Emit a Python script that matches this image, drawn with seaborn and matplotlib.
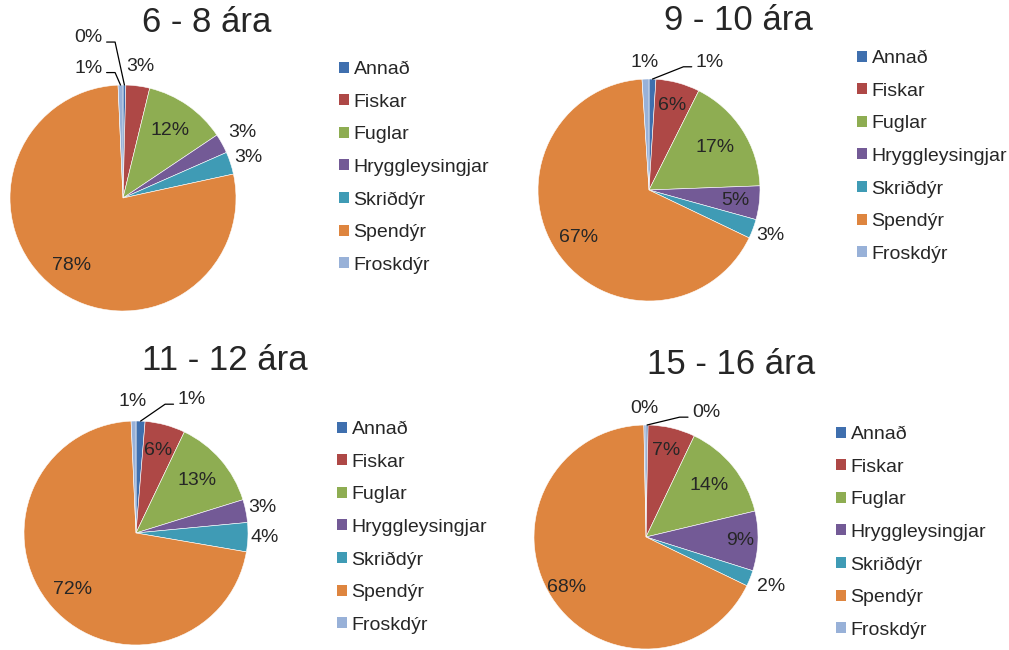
"""
four pie charts of animal groups by age group, each with its own legend
"""

import numpy as np
import matplotlib
matplotlib.use("Agg")
import matplotlib.pyplot as plt
from matplotlib.patches import Patch
import seaborn as sns

sns.set_style("white")
plt.rcParams['font.family'] = ['Liberation Sans', 'DejaVu Sans']

categories = ["Annað", "Fiskar", "Fuglar", "Hryggleysingjar", "Skriðdýr", "Spendýr", "Froskdýr"]
age_groups = ["6 - 8 ára", "9 - 10 ára", "11 - 12 ára", "15 - 16 ára"]

share_6_8 = [0.4, 3.4, 11.8, 2.8, 3.2, 77.7, 0.7]
share_9_10 = [1.0, 6.4, 17.0, 4.9, 2.8, 66.9, 1.0]
share_11_12 = [1.3, 5.8, 13.1, 3.3, 4.2, 71.6, 0.7]
share_15_16 = [0.3, 6.8, 14.2, 8.6, 2.3, 67.6, 0.3]
shares = [share_6_8, share_9_10, share_11_12, share_15_16]

colors = sns.color_palette(["#3F6FAE", "#AE4846", "#8EAD52", "#735A96",
                            "#3F9BB5", "#DE853F", "#98B1D8"])

W, H = 1009, 650
# pie centre (px), radius (px), title centre (px), legend top-left (px)
layout = [
    dict(c=(123, 198), r=113, title=(207, 22), leg=(339, 61)),
    dict(c=(649, 190), r=111, title=(738, 20), leg=(857, 50)),
    dict(c=(136, 533), r=112, title=(225, 360), leg=(337, 421)),
    dict(c=(646, 537), r=112, title=(731, 364), leg=(836, 426)),
]
# label radius per slice; a tuple means a label pulled out with a leader line
label_pos = [
    [(-0.18, 1.42, "right"), 1.17, 0.73, 1.21, 1.17, 0.75, (-0.18, 1.15, "right")],
    [(0.42, 1.15, "left"), 0.79, 0.71, 0.78, 1.17, 0.77, 1.15],
    [(0.37, 1.19, "left"), 0.76, 0.72, 1.15, 1.15, 0.76, 1.17],
    [(0.41, 1.11, "left"), 0.79, 0.73, 0.84, 1.2, 0.84, 1.15],
]

fig = plt.figure(figsize=(W / 100, H / 100), dpi=100)
label_size = 14

for vals, title, lay, lpos in zip(shares, age_groups, layout, label_pos):
    cx, cy = lay["c"]
    r = lay["r"]
    ax = fig.add_axes([(cx - r) / W, 1 - (cy + r) / H, 2 * r / W, 2 * r / H])
    wedges, _ = ax.pie(vals, colors=colors, startangle=90, counterclock=False,
                       radius=1, wedgeprops=dict(edgecolor="white", linewidth=0.4))
    ax.set_xlim(-1, 1)
    ax.set_ylim(-1, 1)
    ax.set_aspect("equal")
    ax.axis("off")

    total = float(np.sum(vals))
    for w, v, pos in zip(wedges, vals, lpos):
        ang = np.deg2rad((w.theta1 + w.theta2) / 2)
        txt = "%d%%" % int(round(100 * v / total))
        if isinstance(pos, tuple):
            tx, ty, ha = pos
            ax.text(tx, ty, txt, ha=ha, va="center", fontsize=label_size, clip_on=False)
            sgn = 1 if ha == "right" else -1
            x0 = tx + sgn * 0.035
            x1 = tx + sgn * 0.11
            yl = ty - 0.04
            ax.plot([x0, x1, np.cos(ang)], [yl, yl, np.sin(ang)], color="black",
                    lw=0.9, clip_on=False)
        else:
            ax.text(pos * np.cos(ang), pos * np.sin(ang), txt, ha="center", va="center",
                    fontsize=label_size, clip_on=False)

    fig.text(lay["title"][0] / W, 1 - lay["title"][1] / H, title, ha="center", va="center",
             fontsize=25)

    handles = [Patch(facecolor=col, edgecolor="none") for col in colors]
    lx, ly = lay["leg"]
    fig.legend(handles, categories, loc="upper left", bbox_to_anchor=(lx / W, 1 - ly / H),
               frameon=False, fontsize=label_size, handlelength=0.5, handleheight=0.5,
               handletextpad=0.25, labelspacing=0.8, borderpad=0, borderaxespad=0)

plt.savefig("out.png", dpi=100)
